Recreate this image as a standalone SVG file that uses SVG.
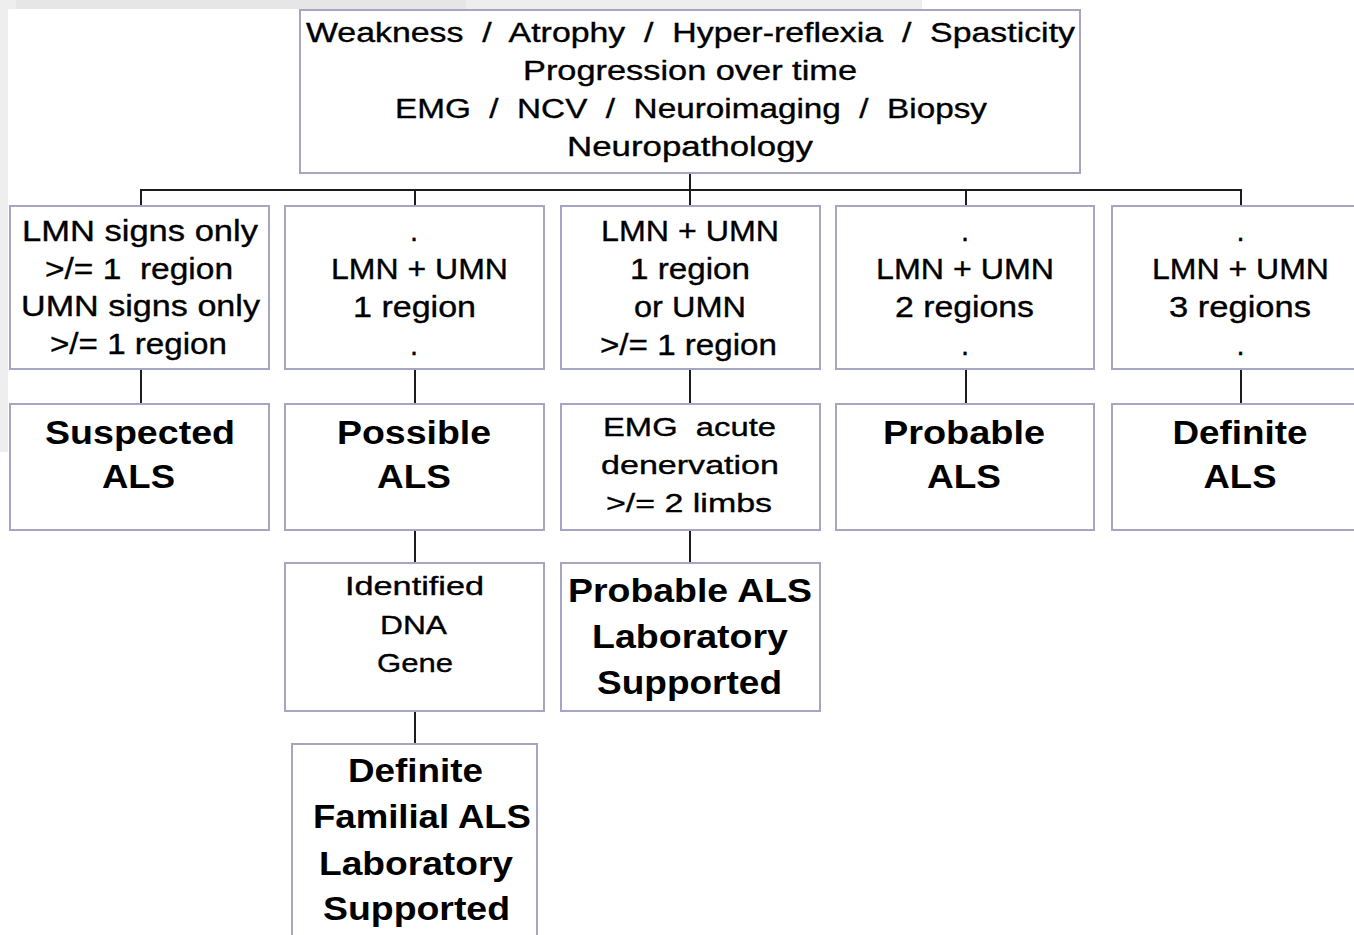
<svg xmlns="http://www.w3.org/2000/svg" width="1354" height="935" viewBox="0 0 1354 935">
<style>
.box{fill:#ffffff;stroke:#a6a6c2;stroke-width:2}
.t{font-family:"Liberation Sans",Arial,sans-serif;fill:#000;text-anchor:middle;white-space:pre}
.r{font-size:27px;stroke:#000;stroke-width:0.35}
.m{font-size:29px;stroke:#000;stroke-width:0.35}
.s{font-size:26px;stroke:#000;stroke-width:0.35}
.b{font-size:34px;font-weight:bold}
#connectors line{stroke:#1c1c1c;stroke-width:2}
</style>
<rect x="0" y="0" width="1354" height="935" fill="#ffffff"/>
<rect x="0" y="0" width="922" height="9" fill="#eeeeee"/>
<rect x="16" y="0" width="450" height="9" fill="#e6e6e6"/>
<rect x="0" y="0" width="8" height="452" fill="#eeeeee"/>

<g id="connectors">
<line x1="690" y1="173" x2="690" y2="191"/>
<line x1="140" y1="190" x2="1242" y2="190"/>
<line x1="141" y1="190" x2="141" y2="206"/>
<line x1="415" y1="190" x2="415" y2="206"/>
<line x1="690" y1="190" x2="690" y2="206"/>
<line x1="966" y1="190" x2="966" y2="206"/>
<line x1="1241" y1="190" x2="1241" y2="206"/>
<line x1="141" y1="369" x2="141" y2="404"/>
<line x1="415" y1="369" x2="415" y2="404"/>
<line x1="690" y1="369" x2="690" y2="404"/>
<line x1="966" y1="369" x2="966" y2="404"/>
<line x1="1241" y1="369" x2="1241" y2="404"/>
<line x1="415" y1="530" x2="415" y2="563"/>
<line x1="690" y1="530" x2="690" y2="563"/>
<line x1="415" y1="711" x2="415" y2="744"/>
</g>

<g id="top">
<rect class="box" x="300" y="10" width="780" height="163"/>
<text class="t r" x="690.5" y="42" textLength="769" lengthAdjust="spacingAndGlyphs">Weakness  /  Atrophy  /  Hyper-reflexia  /  Spasticity</text>
<text class="t r" x="690" y="80" textLength="334" lengthAdjust="spacingAndGlyphs">Progression over time</text>
<text class="t r" x="691" y="118" textLength="592" lengthAdjust="spacingAndGlyphs">EMG  /  NCV  /  Neuroimaging  /  Biopsy</text>
<text class="t r" x="690" y="156" textLength="246" lengthAdjust="spacingAndGlyphs">Neuropathology</text>
</g>

<g id="c1-criteria">
<rect class="box" x="10" y="206" width="259" height="163"/>
<text class="t m" x="140" y="241" textLength="236" lengthAdjust="spacingAndGlyphs">LMN signs only</text>
<text class="t m" x="139" y="279" textLength="188" lengthAdjust="spacingAndGlyphs">&gt;/= 1  region</text>
<text class="t m" x="140.5" y="316" textLength="239" lengthAdjust="spacingAndGlyphs">UMN signs only</text>
<text class="t m" x="138.5" y="354" textLength="177" lengthAdjust="spacingAndGlyphs">&gt;/= 1 region</text>
</g>

<g id="c2-criteria">
<rect class="box" x="285" y="206" width="259" height="163"/>
<text class="t m" x="414" y="241">.</text>
<text class="t m" x="419.5" y="279" textLength="177" lengthAdjust="spacingAndGlyphs">LMN + UMN</text>
<text class="t m" x="414.5" y="317" textLength="123" lengthAdjust="spacingAndGlyphs">1 region</text>
<text class="t m" x="414" y="355">.</text>
</g>

<g id="c3-criteria">
<rect class="box" x="561" y="206" width="259" height="163"/>
<text class="t m" x="690" y="241" textLength="178" lengthAdjust="spacingAndGlyphs">LMN + UMN</text>
<text class="t m" x="690" y="279" textLength="120" lengthAdjust="spacingAndGlyphs">1 region</text>
<text class="t m" x="690" y="317" textLength="112" lengthAdjust="spacingAndGlyphs">or UMN</text>
<text class="t m" x="688.5" y="355" textLength="177" lengthAdjust="spacingAndGlyphs">&gt;/= 1 region</text>
</g>

<g id="c4-criteria">
<rect class="box" x="836" y="206" width="258" height="163"/>
<text class="t m" x="965" y="241">.</text>
<text class="t m" x="965" y="279" textLength="178" lengthAdjust="spacingAndGlyphs">LMN + UMN</text>
<text class="t m" x="964.5" y="317" textLength="139" lengthAdjust="spacingAndGlyphs">2 regions</text>
<text class="t m" x="965" y="355">.</text>
</g>

<g id="c5-criteria">
<rect class="box" x="1112" y="206" width="259" height="163"/>
<text class="t m" x="1240.5" y="241">.</text>
<text class="t m" x="1240.5" y="279" textLength="177" lengthAdjust="spacingAndGlyphs">LMN + UMN</text>
<text class="t m" x="1240" y="317" textLength="142" lengthAdjust="spacingAndGlyphs">3 regions</text>
<text class="t m" x="1240.5" y="355">.</text>
</g>

<g id="suspected">
<rect class="box" x="10" y="404" width="259" height="126"/>
<text class="t b" x="140" y="444" textLength="190" lengthAdjust="spacingAndGlyphs">Suspected</text>
<text class="t b" x="138.5" y="488" textLength="73" lengthAdjust="spacingAndGlyphs">ALS</text>
</g>

<g id="possible">
<rect class="box" x="285" y="404" width="259" height="126"/>
<text class="t b" x="414" y="444" textLength="154" lengthAdjust="spacingAndGlyphs">Possible</text>
<text class="t b" x="414" y="488" textLength="74" lengthAdjust="spacingAndGlyphs">ALS</text>
</g>

<g id="emg">
<rect class="box" x="561" y="404" width="259" height="126"/>
<text class="t s" x="689.5" y="436" textLength="173" lengthAdjust="spacingAndGlyphs">EMG  acute</text>
<text class="t s" x="690" y="474" textLength="178" lengthAdjust="spacingAndGlyphs">denervation</text>
<text class="t s" x="689" y="512" textLength="166" lengthAdjust="spacingAndGlyphs">&gt;/= 2 limbs</text>
</g>

<g id="probable">
<rect class="box" x="836" y="404" width="258" height="126"/>
<text class="t b" x="964" y="444" textLength="162" lengthAdjust="spacingAndGlyphs">Probable</text>
<text class="t b" x="964" y="488" textLength="74" lengthAdjust="spacingAndGlyphs">ALS</text>
</g>

<g id="definite">
<rect class="box" x="1112" y="404" width="259" height="126"/>
<text class="t b" x="1240" y="444" textLength="135" lengthAdjust="spacingAndGlyphs">Definite</text>
<text class="t b" x="1240" y="488" textLength="73" lengthAdjust="spacingAndGlyphs">ALS</text>
</g>

<g id="dna">
<rect class="box" x="285" y="563" width="259" height="148"/>
<text class="t s" x="414.5" y="595" textLength="139" lengthAdjust="spacingAndGlyphs">Identified</text>
<text class="t s" x="413.5" y="634" textLength="67" lengthAdjust="spacingAndGlyphs">DNA</text>
<text class="t s" x="415" y="672" textLength="76" lengthAdjust="spacingAndGlyphs">Gene</text>
</g>

<g id="probable-lab">
<rect class="box" x="561" y="563" width="259" height="148"/>
<text class="t b" x="690" y="602" textLength="244" lengthAdjust="spacingAndGlyphs">Probable ALS</text>
<text class="t b" x="690" y="648" textLength="196" lengthAdjust="spacingAndGlyphs">Laboratory</text>
<text class="t b" x="689.5" y="694" textLength="185" lengthAdjust="spacingAndGlyphs">Supported</text>
</g>

<g id="definite-familial">
<rect class="box" x="292" y="744" width="245" height="210"/>
<text class="t b" x="415.5" y="782" textLength="135" lengthAdjust="spacingAndGlyphs">Definite</text>
<text class="t b" x="422" y="828" textLength="218" lengthAdjust="spacingAndGlyphs">Familial ALS</text>
<text class="t b" x="416" y="875" textLength="194" lengthAdjust="spacingAndGlyphs">Laboratory</text>
<text class="t b" x="416.5" y="920" textLength="187" lengthAdjust="spacingAndGlyphs">Supported</text>
</g>
</svg>
